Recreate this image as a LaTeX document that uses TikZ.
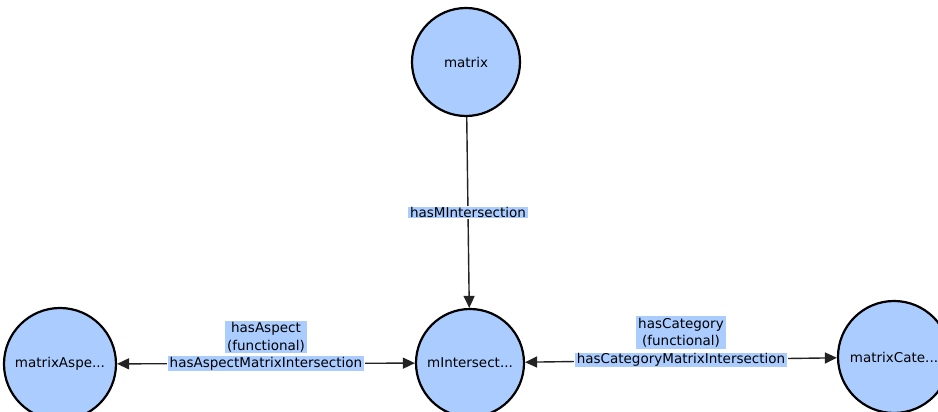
\documentclass[tikz,border=0pt]{standalone}
\usepackage{fontspec}
\setmainfont{DejaVu Sans}
\usetikzlibrary{arrows.meta}
\definecolor{nodefill}{RGB}{170,204,255}
\definecolor{edgegray}{RGB}{35,35,35}
\tikzset{
  x=1pt, y=1pt,
  concept/.style={circle, draw=black, line width=2.2pt, fill=nodefill,
    minimum size=108pt, inner sep=0pt, font=\fontsize{13.5}{16}\selectfont},
  rel/.style={draw=edgegray, line width=1.4pt,
    -{Triangle[length=12pt,width=11pt]}},
  birel/.style={rel, {Triangle[length=12pt,width=11pt]}-{Triangle[length=12pt,width=11pt]}},
  tag/.style={fill=nodefill, draw=white, line width=1pt, inner xsep=2.5pt, inner ysep=1pt,
    font=\fontsize{13.5}{17.5}\selectfont, align=center}
}
\begin{document}
\begin{tikzpicture}
\clip (0,0) rectangle (938,412);
\fill[white] (0,0) rectangle (938,412);
\node[concept] (matrix) at (466,350) {matrix};
\node[concept] (mint) at (470,49) {mIntersect...};
\node[concept, minimum size=112pt] (aspect) at (60,48) {matrixAspe...};
\node[concept, minimum size=112pt] (cate) at (894,55) {matrixCate...};
\draw[rel] (matrix) -- (mint)
  node[tag, pos=0.5] (lm) {hasMIntersection};
\draw[birel] (mint) -- (aspect)
  node[tag, pos=0.5] (la) {hasAspectMatrixIntersection};
\draw[birel] (mint) -- (cate)
  node[tag, pos=0.5] (lc) {hasCategoryMatrixIntersection};
\node[tag, anchor=south, inner ysep=2pt] (la2) at ([yshift=1pt]la.north) {hasAspect\\(functional)};
\node[tag, anchor=south, inner ysep=2pt] (lc2) at ([yshift=2pt]lc.north) {hasCategory\\(functional)};
\end{tikzpicture}
\end{document}
